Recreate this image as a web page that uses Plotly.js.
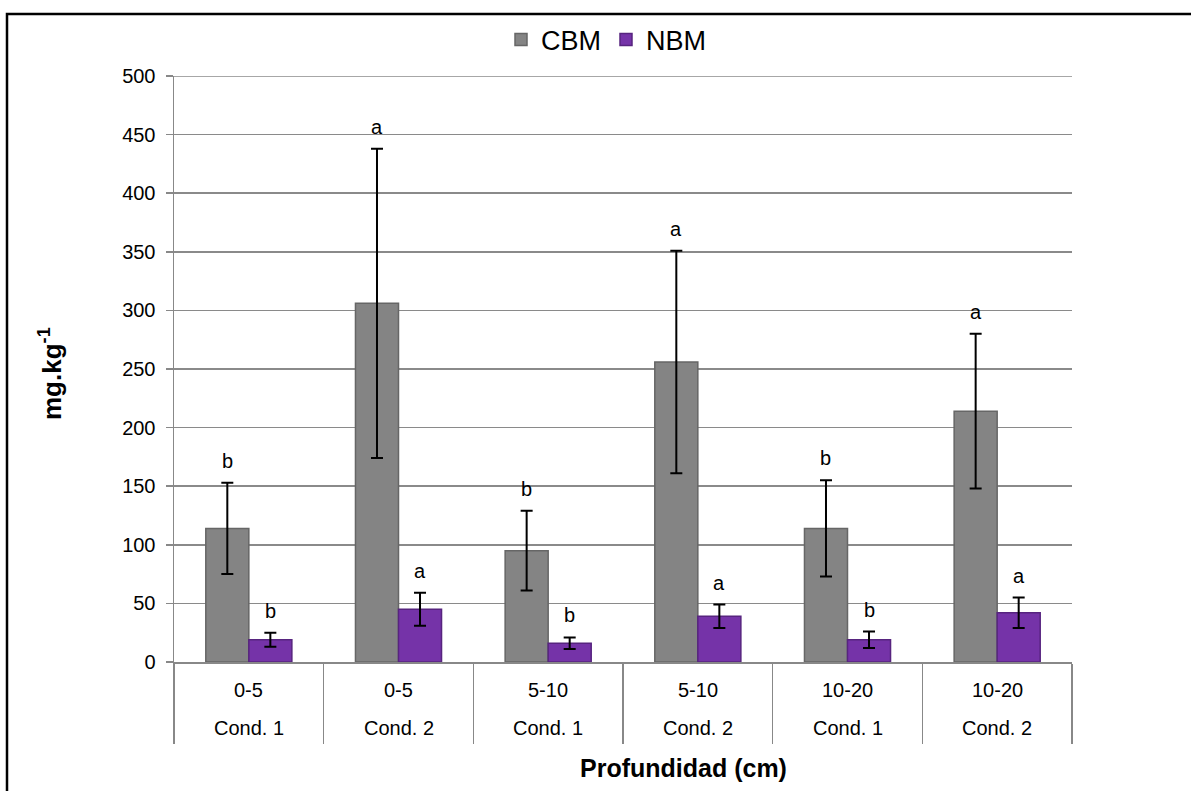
<!DOCTYPE html>
<html>
<head>
<meta charset="utf-8">
<script src="https://cdn.plot.ly/plotly-3.0.1.min.js"></script>
<style>
  html, body { margin: 0; padding: 0; background: #ffffff; }
  #chart { width: 1191px; height: 791px; }
</style>
</head>
<body>
<div id="chart"></div>
<script>
// Soil microbial biomass by depth and condition
const depths     = ['0-5', '0-5', '5-10', '5-10', '10-20', '10-20'];
const conditions = ['Cond. 1', 'Cond. 2', 'Cond. 1', 'Cond. 2', 'Cond. 1', 'Cond. 2'];

const cbmValues  = [114, 306, 95, 256, 114, 214];
const cbmErrors  = [39, 132, 34, 95, 41, 66];
const cbmLetters = ['b', 'a', 'b', 'a', 'b', 'a'];

const nbmValues  = [19, 45, 16, 39, 19, 42];
const nbmErrors  = [6, 14, 5, 10, 7, 13];
const nbmLetters = ['b', 'a', 'b', 'a', 'b', 'a'];

const yTicks = [0, 50, 100, 150, 200, 250, 300, 350, 400, 450, 500];

// page layout (pixels)
const W = 1191, H = 791;
const M = { l: 174, r: 119, t: 76, b: 129 };
const plotW = W - M.l - M.r, plotH = H - M.t - M.b;
const px = x => (x - M.l) / plotW;          // pixel x -> paper x
const py = y => (H - M.b - y) / plotH;      // pixel y -> paper y

const FONT = 'Liberation Sans, Arial, sans-serif';
const keys = depths.map((d, i) => d + ' ' + conditions[i]);
const BARGAP = 0.425;
const half = (1 - BARGAP) / 4;              // offset of each bar centre from the group centre
const GRID = '#8a8a8a';

const cbm = {
  type: 'bar', name: 'CBM', x: keys, y: cbmValues,
  marker: { color: '#848484', line: { color: '#666666', width: 1.5 } },
  error_y: { type: 'data', array: cbmErrors, visible: true, color: '#000000', thickness: 2, width: 6 },
  hoverinfo: 'y'
};
const nbm = {
  type: 'bar', name: 'NBM', x: keys, y: nbmValues,
  marker: { color: '#7533a8', line: { color: '#57247f', width: 1.5 } },
  error_y: { type: 'data', array: nbmErrors, visible: true, color: '#000000', thickness: 2, width: 6 },
  hoverinfo: 'y'
};

const annotations = [];
// significance letters above each error bar
keys.forEach((k, i) => {
  annotations.push({
    x: i - half, y: cbmValues[i] + cbmErrors[i], xref: 'x', yref: 'y',
    text: cbmLetters[i], showarrow: false, yanchor: 'bottom', yshift: 9,
    font: { family: FONT, size: 20, color: '#000000' }
  });
  annotations.push({
    x: i + half, y: nbmValues[i] + nbmErrors[i], xref: 'x', yref: 'y',
    text: nbmLetters[i], showarrow: false, yanchor: 'bottom', yshift: 9,
    font: { family: FONT, size: 20, color: '#000000' }
  });
  // two-row category labels
  annotations.push({
    x: i, y: py(690), xref: 'x', yref: 'paper', text: depths[i], showarrow: false,
    yanchor: 'middle', font: { family: FONT, size: 20, color: '#000000' }
  });
  annotations.push({
    x: i, y: py(728), xref: 'x', yref: 'paper', text: conditions[i], showarrow: false,
    yanchor: 'middle', font: { family: FONT, size: 20, color: '#000000' }
  });
});
// axis titles
annotations.push({
  x: px(683), y: py(768), xref: 'paper', yref: 'paper', text: '<b>Profundidad (cm)</b>',
  showarrow: false, xanchor: 'center', yanchor: 'middle',
  font: { family: FONT, size: 25, color: '#000000' }
});
annotations.push({
  x: px(50), y: py(374), xref: 'paper', yref: 'paper', text: '<b>mg.kg<sup>-1</sup></b>',
  showarrow: false, xanchor: 'center', yanchor: 'middle', textangle: -90,
  font: { family: FONT, size: 26, color: '#000000' }
});

const layout = {
  width: W, height: H,
  margin: M,
  paper_bgcolor: '#ffffff', plot_bgcolor: '#ffffff',
  font: { family: FONT, size: 20, color: '#000000' },
  barmode: 'group', bargap: BARGAP, bargroupgap: 0,
  showlegend: true,
  legend: {
    orientation: 'h', x: px(606), xanchor: 'center', y: py(40), yanchor: 'middle',
    font: { family: FONT, size: 27, color: '#000000' }, bgcolor: 'rgba(0,0,0,0)',
    itemwidth: 30
  },
  xaxis: {
    type: 'category', categoryorder: 'array', categoryarray: keys,
    showticklabels: false, ticks: 'outside', tickson: 'boundaries', ticklen: 80,
    tickcolor: '#888888', tickwidth: 1.5,
    showline: true, linecolor: '#888888', linewidth: 1.5,
    showgrid: false, zeroline: false, fixedrange: true
  },
  yaxis: {
    range: [0, 500], tickmode: 'array', tickvals: yTicks, ticktext: yTicks.map(String),
    ticks: 'outside', ticklen: 7, tickcolor: '#888888', tickwidth: 1.5,
    ticklabelstandoff: 6,
    showline: true, linecolor: '#888888', linewidth: 1.5,
    showgrid: true, gridcolor: GRID, gridwidth: 1.5, zeroline: false,
    tickfont: { family: FONT, size: 20, color: '#000000' }, fixedrange: true
  },
  annotations: annotations,
  shapes: [
    // top gridline at the last tick value
    {
      type: 'line', xref: 'paper', yref: 'y', x0: 0, x1: 1,
      y0: yTicks[yTicks.length - 1], y1: yTicks[yTicks.length - 1],
      line: { color: GRID, width: 1.5 }, layer: 'below'
    },
    // chart frame
    {
      type: 'rect', xref: 'paper', yref: 'paper',
      x0: px(7), y0: py(H + 20), x1: px(W + 20), y1: py(14),
      line: { color: '#000000', width: 2.5 }, fillcolor: 'rgba(0,0,0,0)', layer: 'above'
    }
  ]
};

Plotly.newPlot('chart', [cbm, nbm], layout, { displayModeBar: false, staticPlot: true });
</script>
</body>
</html>
